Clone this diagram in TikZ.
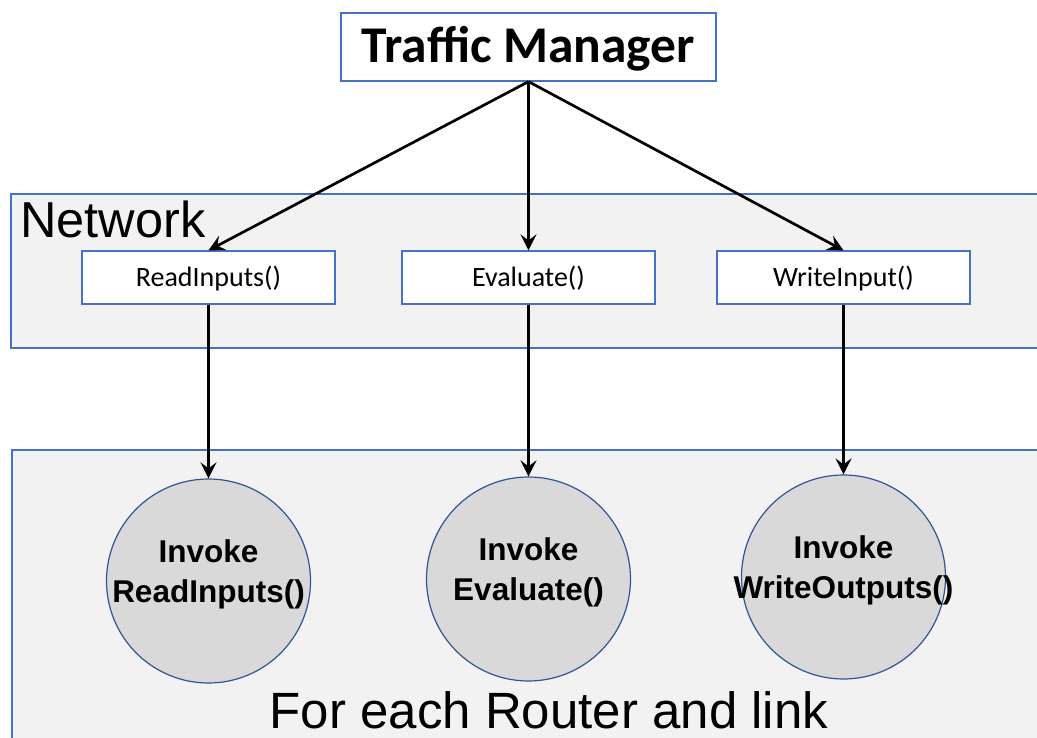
\documentclass[tikz,border=0pt]{standalone}
\usepackage{fontspec}
\setmainfont{Carlito}
\newfontfamily\arialfont{Liberation Sans}
\usetikzlibrary{arrows.meta}
\definecolor{panelfill}{HTML}{F2F2F2}
\definecolor{boxblue}{HTML}{4472C4}
\definecolor{ringblue}{HTML}{2F5597}
\definecolor{discfill}{HTML}{D9D9D9}
\tikzset{
  panel/.style={draw=boxblue, line width=1.2pt, fill=panelfill},
  callbox/.style={draw=boxblue, line width=1.2pt, fill=white, inner xsep=0pt, inner ysep=0pt,
    minimum width=253pt, text height=36pt, text depth=17pt, font=\fontsize{28}{33}\selectfont},
  disc/.style={circle, draw=ringblue, line width=1.2pt, fill=discfill, minimum size=204pt, inner sep=0pt},
  disctext/.style={align=center, inner sep=0pt, font=\arialfont\bfseries\fontsize{31.5}{40}\selectfont},
  flow/.style={draw=black, line width=2.7pt, -{Stealth[length=16pt, width=16pt, inset=6pt]}}
}
\begin{document}
\begin{tikzpicture}[x=1pt, y=-1pt]
  \clip (0,0) rectangle (1037,738);

  % two background panels
  \fill[panel] (11,194) rectangle (1050,348);
  \fill[panel] (12,450) rectangle (1050,760);
  \draw[panel] (11,194) rectangle (1050,348);
  \draw[panel] (12,450) rectangle (1050,760);

  \node[anchor=base west, inner sep=0pt, font=\arialfont\fontsize{50.5}{60}\selectfont] (nettitle) at (20,238) {Network};
  \node[anchor=base, inner sep=0pt, font=\arialfont\fontsize{51}{60}\selectfont] (looptitle) at (549,728) {For each Router and link};

  % top level controller
  \node[draw=boxblue, line width=1.2pt, fill=white, inner xsep=0pt, inner ysep=0pt,
        minimum width=375pt, text height=50pt, text depth=18pt,
        font=\bfseries\fontsize{51.5}{60}\selectfont] (tm) at (528.5,47) {Traffic Manager};

  % network calls
  \node[callbox] (ri) at (208.5,277.5) {ReadInputs()};
  \node[callbox] (ev) at (528.5,277.5) {Evaluate()};
  \node[callbox] (wi) at (843.5,277.5) {WriteInput()};

  % per-component invocations
  \node[disc] (c1) at (208.5,581) {};
  \node[disc] (c2) at (528.5,579) {};
  \node[disc] (c3) at (843.5,577) {};
  \node[disctext, yshift=7pt] (t1) at (c1.center) {Invoke\\ReadInputs()};
  \node[disctext, yshift=7pt] (t2) at (c2.center) {Invoke\\Evaluate()};
  \node[disctext, yshift=7pt] (t3) at (c3.center) {Invoke\\WriteOutputs()};

  % connectors
  \draw[flow] (tm.south) -- (ri.north);
  \draw[flow] (tm.south) -- (ev.north);
  \draw[flow] (tm.south) -- (wi.north);
  \draw[flow] (ri.south) -- (c1.north);
  \draw[flow] (ev.south) -- (c2.north);
  \draw[flow] (wi.south) -- (c3.north);
\end{tikzpicture}
\end{document}
